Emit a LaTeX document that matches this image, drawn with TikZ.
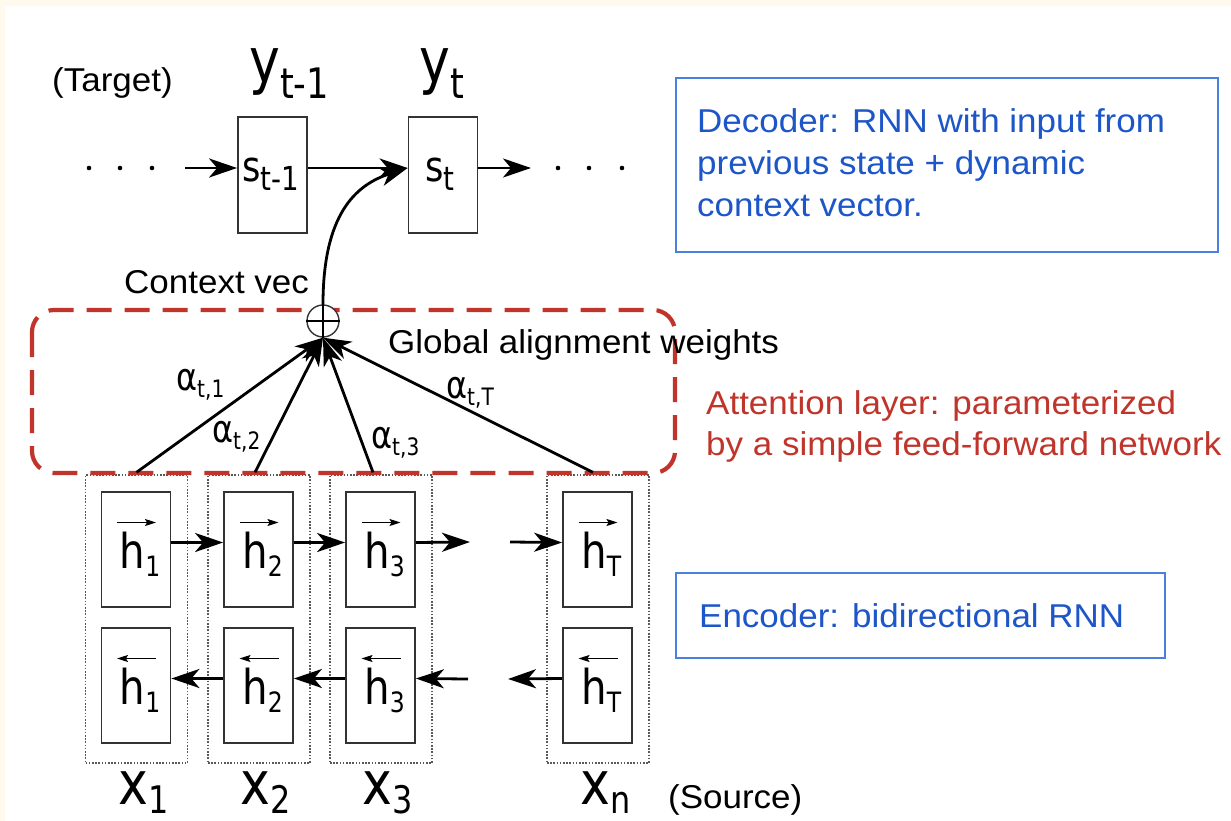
\documentclass[tikz,border=0pt]{standalone}
\usepackage{fontspec}
\setmainfont{Liberation Sans}[FakeStretch=1.06]
\newfontfamily\dv{DejaVu Sans}[FakeStretch=0.84]
\usetikzlibrary{arrows.meta,calc}
\definecolor{cream}{HTML}{FFF9EE}
\definecolor{bluetxt}{HTML}{1C56C8}
\definecolor{blueline}{HTML}{4A80E0}
\definecolor{redc}{HTML}{C0352B}
\newcommand{\fs}[1]{\fontsize{#1}{#1}\selectfont}
\begin{document}
\begin{tikzpicture}[x=1pt,y=-1pt,
  cell/.style={draw=black!80, line width=1.8pt, minimum width=69pt, minimum height=115pt, inner sep=0pt},
  outerbox/.style={draw=black!65, line width=1.3pt, dash pattern=on 1.6pt off 1.6pt, minimum width=102pt, minimum height=288pt, inner sep=0pt},
  arr/.style={line width=2.8pt, -{Stealth[length=28pt,width=19pt,inset=8pt]}},
  vecarr/.style={line width=1.3pt, -{Stealth[length=11pt,width=7pt,inset=2pt]}},
  lbl/.style={inner sep=0pt, anchor=base west},
  txt/.style={inner sep=0pt, anchor=base west, font=\fs{33}},
]
\fill[cream] (0,0) rectangle (1231,821);
\fill[white] (5,6) rectangle (1231,821);
\useasboundingbox (0,0) rectangle (1231,821);

% ---------- decoder ----------
\node[cell, minimum height=116pt] (sa) at (272.5,175) {};
\node[cell, minimum height=116pt] (sb) at (443,175) {};
\node[lbl] (sal) at (242,182) {\dv\fs{42}s\raisebox{-9pt}{\fs{33}t-1}};
\node[lbl] (sbl) at (425,182) {\dv\fs{42}s\raisebox{-9pt}{\fs{33}t}};
\node[lbl] (yal) at (249,83) {\dv\fs{62}y\raisebox{-16pt}{\fs{42}t-1}};
\node[lbl] (ybl) at (419,83) {\dv\fs{62}y\raisebox{-16pt}{\fs{42}t}};
\node[txt] (target) at (52,92) {(Target)};

\foreach \x in {89,120,152,558,589,622} \fill (\x,168) circle (2.3pt);
\coordinate (din) at (185,168);
\coordinate (dout) at (531,168);
\draw[arr] (din) -- ($(sa.west)+(0,-7)$);
\draw[arr] ($(sa.east)+(0,-7)$) -- ($(sb.west)+(0,-7)$);
\draw[arr] ($(sb.east)+(0,-7)$) -- (dout);

% ---------- encoder ----------
\foreach \n/\cx/\s in {1/136.5/1, 2/259/2, 3/381/3, T/598/T}{
  \node[outerbox] (o\n) at (\cx,619) {};
  \node[cell, fill=white] (hf\n) at (\cx-0.5,549.5) {};
  \node[cell, fill=white] (hb\n) at (\cx-0.5,685.5) {};
  \node[lbl] (hfl\n) at (\cx-17,568) {\dv\fs{48}h\raisebox{-8pt}{\fs{28}\s}};
  \node[lbl] (hbl\n) at (\cx-17,704) {\dv\fs{48}h\raisebox{-8pt}{\fs{28}\s}};
  \draw[vecarr] ($(hf\n.center)+(-19,-27)$) -- ($(hf\n.center)+(20,-27)$);
  \draw[vecarr] ($(hb\n.center)+(20,-27)$) -- ($(hb\n.center)+(-19,-27)$);
}
\node[lbl] (x1) at (118,804) {\dv\fs{60}x\raisebox{-9pt}{\fs{38}1}};
\node[lbl] (x2) at (240,804) {\dv\fs{60}x\raisebox{-9pt}{\fs{38}2}};
\node[lbl] (x3) at (362,804) {\dv\fs{60}x\raisebox{-9pt}{\fs{38}3}};
\node[lbl] (xn) at (580,804) {\dv\fs{60}x\raisebox{-9pt}{\fs{38}n}};
\node[txt] (source) at (668,808) {(Source)};

\coordinate (f3out) at (470,542);
\coordinate (fTin) at (510,542);
\coordinate (b3in) at (468,679);
\coordinate (bTout) at (508,679);
\draw[arr] ($(hf1.east)+(0,-7)$) -- ($(hf2.west)+(0,-7)$);
\draw[arr] ($(hf2.east)+(0,-7)$) -- ($(hf3.west)+(0,-7)$);
\draw[arr] ($(hf3.east)+(0,-7)$) -- (f3out);
\draw[arr] (fTin) -- ($(hfT.west)+(0,-7)$);
\draw[arr] ($(hb2.west)+(0,-7)$) -- ($(hb1.east)+(0,-7)$);
\draw[arr] ($(hb3.west)+(0,-7)$) -- ($(hb2.east)+(0,-7)$);
\draw[arr] (b3in) -- ($(hb3.east)+(0,-7)$);
\draw[arr] ($(hbT.west)+(0,-7)$) -- (bTout);

% ---------- attention ----------
\draw[redc, line width=4.2pt, dash pattern=on 25pt off 13pt, rounded corners=22pt]
  (32,310) rectangle (675,473);
\node[circle, draw=black!80, line width=1.4pt, minimum size=32pt, inner sep=0pt, fill=white] (op) at (323,321) {};
\draw[line width=2.6pt] (op.north) -- (op.south) (op.west) -- (op.east);
\draw[arr] ($(o1.north)+(0,-2)$) -- (op.south);
\draw[arr] ($(o2.north)+(-4,-2)$) -- (op.south);
\draw[arr] ($(o3.north)+(-8,-2)$) -- (op.south);
\draw[arr] ($(oT.north)+(-5,-2)$) -- (op.south);
\draw[arr] (op.north) .. controls (323,215) and (355,185) .. ($(sb.west)+(0,-7)$);

\node[lbl] (a1) at (176,390) {\dv\fs{38}α\raisebox{-7pt}{\fs{24}t,1}};
\node[lbl] (a2) at (212,442) {\dv\fs{38}α\raisebox{-7pt}{\fs{24}t,2}};
\node[lbl] (a3) at (371,448) {\dv\fs{38}α\raisebox{-7pt}{\fs{24}t,3}};
\node[lbl] (aT) at (446,398) {\dv\fs{38}α\raisebox{-7pt}{\fs{24}t,T}};

\node[txt] (ctx) at (124,293) {Context vec};
\node[txt] (glob) at (388,353) {Global alignment weights};

% ---------- notes ----------
\draw[blueline, line width=1.8pt] (676,78) rectangle (1218,252);
\node[txt, text=bluetxt] (d1) at (697,133) {Decoder: RNN with input from};
\node[txt, text=bluetxt] (d2) at (697,175) {previous state + dynamic};
\node[txt, text=bluetxt] (d3) at (697,217) {context vector.};
\node[txt, text=redc] (r1) at (706,414) {Attention layer: parameterized};
\node[txt, text=redc] (r2) at (706,455) {by a simple feed-forward network};
\draw[blueline, line width=1.8pt] (676,573) rectangle (1165,658);
\node[txt, text=bluetxt] (e1) at (699,627) {Encoder: bidirectional RNN};
\end{tikzpicture}
\end{document}
